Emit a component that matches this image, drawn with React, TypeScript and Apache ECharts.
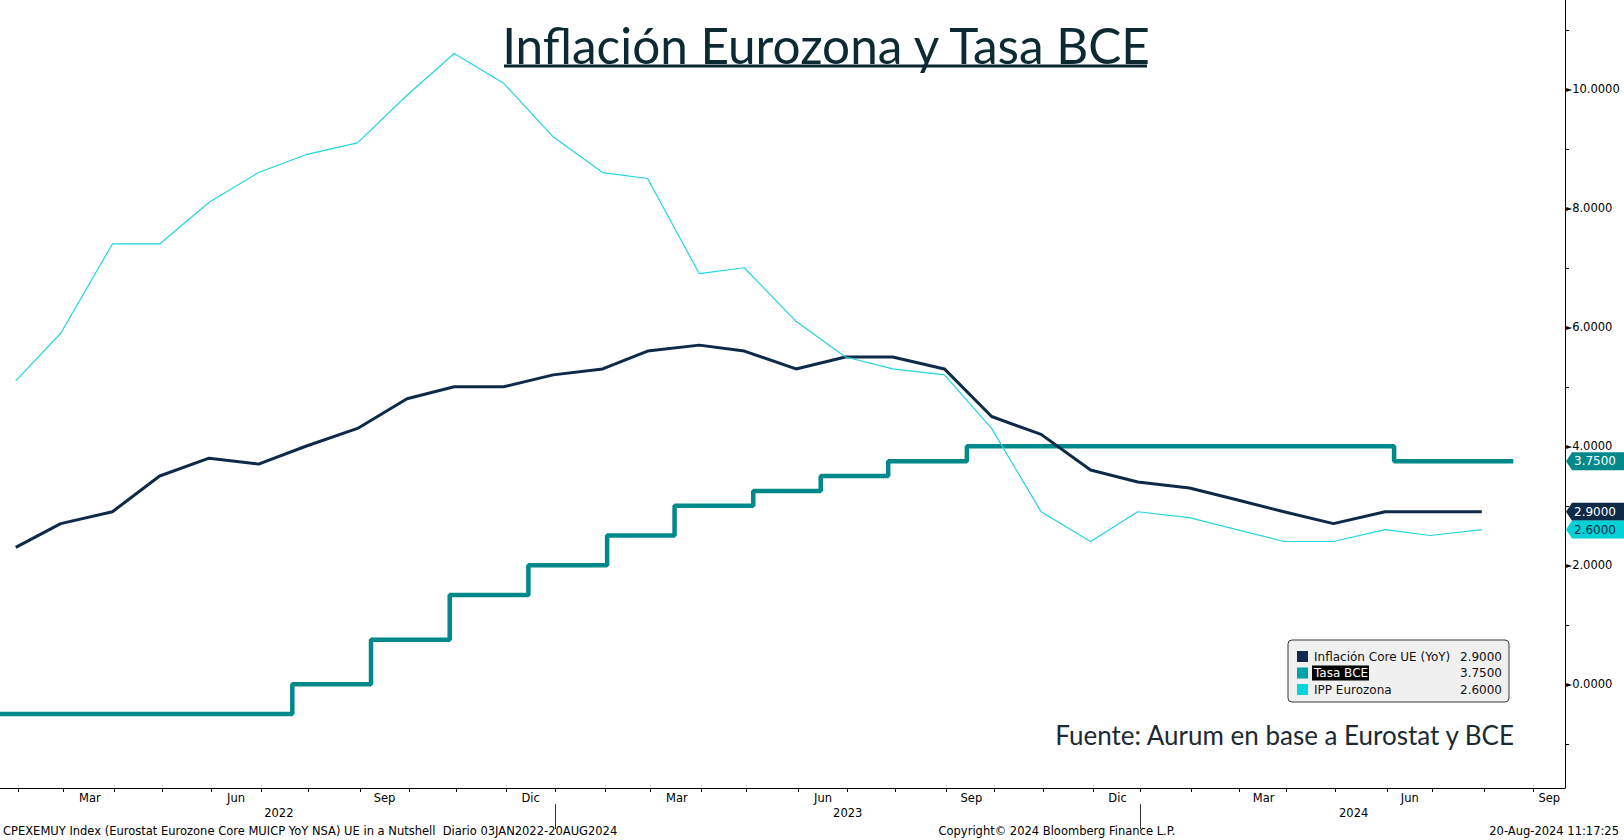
import React, { useEffect, useRef } from "react";
import * as echarts from "echarts";

const CHART_TITLE = "Inflación Eurozona y Tasa BCE";
const SOURCE_NOTE = "Fuente: Aurum en base a Eurostat y BCE";
const FOOTER_LEFT =
  "CPEXEMUY Index (Eurostat Eurozone Core MUICP YoY NSA) UE in a Nutshell  Diario 03JAN2022-20AUG2024";
const FOOTER_CENTER = "Copyright© 2024 Bloomberg Finance L.P.";
const FOOTER_RIGHT = "20-Aug-2024 11:17:25";

const SERIES_NAMES = ["Inflación Core UE (YoY)", "Tasa BCE", "IPP Eurozona"];
const SERIES_COLORS = ["#0f2a47", "#00898b", "#22d5dc"];
const LEGEND_SWATCH = ["#13294b", "#00a3a6", "#00d5dc"];

// daily axis range (business days)
const DATA_START = "2022-01-03";
const VIEW_START = "2022-01-20";
const VIEW_END = "2024-09-20";

// monthly observations (plotted at the last business day of each month)
const MONTHS = [
  "2022-01", "2022-02", "2022-03", "2022-04", "2022-05", "2022-06", "2022-07", "2022-08",
  "2022-09", "2022-10", "2022-11", "2022-12", "2023-01", "2023-02", "2023-03", "2023-04",
  "2023-05", "2023-06", "2023-07", "2023-08", "2023-09", "2023-10", "2023-11", "2023-12",
  "2024-01", "2024-02", "2024-03", "2024-04", "2024-05", "2024-06", "2024-07",
];
const CORE = [
  2.3, 2.7, 2.9, 3.5, 3.8, 3.7, 4.0, 4.3, 4.8, 5.0, 5.0, 5.2, 5.3, 5.6, 5.7, 5.6,
  5.3, 5.5, 5.5, 5.3, 4.5, 4.2, 3.6, 3.4, 3.3, 3.1, 2.9, 2.7, 2.9, 2.9, 2.9,
];
const HEADLINE = [
  5.1, 5.9, 7.4, 7.4, 8.1, 8.6, 8.9, 9.1, 9.9, 10.6, 10.1, 9.2, 8.6, 8.5, 6.9, 7.0,
  6.1, 5.5, 5.3, 5.2, 4.3, 2.9, 2.4, 2.9, 2.8, 2.6, 2.4, 2.4, 2.6, 2.5, 2.6,
];

// ECB deposit rate change dates and values
const RATE_DATES = [
  "2022-01-03", "2022-07-21", "2022-09-08", "2022-10-27", "2022-12-15", "2023-02-02",
  "2023-03-16", "2023-05-04", "2023-06-15", "2023-07-27", "2023-09-14", "2024-06-06",
  "2024-08-20",
];
const RATE_VALUES = [-0.5, 0, 0.75, 1.5, 2.0, 2.5, 3.0, 3.25, 3.5, 3.75, 4.0, 3.75, 3.75];

// axis ticks / labels
const MONTH_ABBR = ["Ene", "Feb", "Mar", "Abr", "May", "Jun", "Jul", "Ago", "Sep", "Oct", "Nov", "Dic"];
const LABELED_MONTHS = [2, 5, 8, 11];
const Y_MIN = -1.743;
const Y_MAX = 11.5;
const Y_LABELS = [0, 2, 4, 6, 8, 10];
const Y_MINOR = [-1, 1, 3, 5, 7, 9, 11];

const AXIS_FONT = "'DejaVu Sans', Verdana, sans-serif";
const TITLE_FONT = "Lato, 'Noto Sans', sans-serif";

const pad = (n: number) => String(n).padStart(2, "0");
const fmt = (d: Date) => `${d.getUTCFullYear()}-${pad(d.getUTCMonth() + 1)}-${pad(d.getUTCDate())}`;

function businessDays(start: string, end: string): string[] {
  const out: string[] = [];
  const d = new Date(start + "T00:00:00Z");
  const e = new Date(end + "T00:00:00Z");
  while (d <= e) {
    const w = d.getUTCDay();
    if (w !== 0 && w !== 6) out.push(fmt(d));
    d.setUTCDate(d.getUTCDate() + 1);
  }
  return out;
}
function lastBizDay(ym: string): string {
  const [y, m] = ym.split("-").map(Number);
  const d = new Date(Date.UTC(y, m, 0));
  while (d.getUTCDay() === 0 || d.getUTCDay() === 6) d.setUTCDate(d.getUTCDate() - 1);
  return fmt(d);
}

export default function App() {
  const ref = useRef<HTMLDivElement>(null);

  useEffect(() => {
    if (!ref.current) return;
    const chart = echarts.init(ref.current, undefined, { renderer: "svg" });

    const cats = businessDays(DATA_START, VIEW_END);
    const minIdx = cats.indexOf(VIEW_START);
    const maxIdx = cats.length - 1;

    const monthTick = new Set<number>();
    const monthLabel = new Set<number>();
    const yearTick = new Set<number>();
    const yearLabel = new Set<number>();
    const monthStarts: number[] = [];
    for (let i = 0; i < cats.length; i++) {
      if (i === 0 || cats[i].slice(0, 7) !== cats[i - 1].slice(0, 7)) {
        monthStarts.push(i);
        monthTick.add(i);
        if (i > 0 && cats[i].slice(0, 4) !== cats[i - 1].slice(0, 4)) yearTick.add(i);
      }
    }
    for (let k = 0; k < monthStarts.length; k++) {
      const s = monthStarts[k];
      const e = k + 1 < monthStarts.length ? monthStarts[k + 1] : maxIdx;
      const m = Number(cats[s].slice(5, 7)) - 1;
      if (!LABELED_MONTHS.includes(m)) continue;
      const lo = Math.max(s, minIdx);
      const hi = Math.min(e, maxIdx);
      if (hi <= lo) continue;
      monthLabel.add(Math.round((lo + hi) / 2));
    }
    const years = Array.from(new Set(cats.map((c) => c.slice(0, 4))));
    years.forEach((y) => {
      const first = cats.findIndex((c) => c.startsWith(y));
      let last = -1;
      for (let i = cats.length - 1; i >= 0; i--) if (cats[i].startsWith(y)) { last = i; break; }
      const lo = Math.max(first, minIdx);
      const hi = Math.min(last + (last < maxIdx ? 1 : 0), maxIdx);
      if (hi > lo) yearLabel.add(Math.round((lo + hi) / 2));
    });

    const coreData = MONTHS.map((m, i) => [lastBizDay(m), CORE[i]]);
    const headData = MONTHS.map((m, i) => [lastBizDay(m), HEADLINE[i]]);
    const rateData = RATE_DATES.map((d, i) => [d, RATE_VALUES[i]]);

    const axisLabelFont = { color: "#000", fontSize: 11.5, fontFamily: AXIS_FONT };

    const option: any = {
      animation: false,
      backgroundColor: "#ffffff",
      grid: { left: 0, right: 59, top: 0, bottom: 52, containLabel: false, outerBoundsMode: "none" },
      xAxis: [
        {
          type: "category",
          data: cats,
          boundaryGap: false,
          min: minIdx,
          max: maxIdx,
          axisLine: { onZero: false, lineStyle: { color: "#000", width: 1 } },
          axisTick: { length: 4, lineStyle: { color: "#000" }, interval: (i: number) => monthTick.has(i) },
          axisLabel: {
            interval: (i: number) => monthLabel.has(i),
            formatter: (v: string) => MONTH_ABBR[Number(v.slice(5, 7)) - 1],
            ...axisLabelFont,
            margin: 4,
          },
          splitLine: { show: false },
        },
        {
          type: "category",
          data: cats,
          boundaryGap: false,
          min: minIdx,
          max: maxIdx,
          position: "bottom",
          offset: 16,
          axisLine: { show: false, onZero: false },
          axisTick: { length: 25, lineStyle: { color: "#333" }, interval: (i: number) => yearTick.has(i) },
          axisLabel: {
            interval: (i: number) => yearLabel.has(i),
            formatter: (v: string) => v.slice(0, 4),
            ...axisLabelFont,
            margin: 3,
          },
          splitLine: { show: false },
        },
      ],
      yAxis: {
        type: "value",
        position: "right",
        min: Y_MIN,
        max: Y_MAX,
        axisLine: { show: true, lineStyle: { color: "#000", width: 1 } },
        axisTick: { show: true, length: 4, customValues: Y_MINOR, lineStyle: { color: "#000" } },
        axisLabel: {
          customValues: Y_LABELS,
          margin: 1,
          formatter: (v: number) => `{t|►}{v|${v.toFixed(4)}}`,
          rich: {
            t: { fontSize: 8, color: "#000", fontFamily: "DejaVu Sans" },
            v: { fontSize: 11.5, color: "#000", fontFamily: AXIS_FONT },
          },
        },
        splitLine: { show: false },
      },
      series: [
        {
          name: SERIES_NAMES[1],
          type: "line",
          step: "end",
          data: rateData,
          symbol: "none",
          clip: true,
          lineStyle: { color: SERIES_COLORS[1], width: 4.5 },
          z: 2,
        },
        {
          name: SERIES_NAMES[0],
          type: "line",
          data: coreData,
          symbol: "none",
          clip: true,
          lineStyle: { color: SERIES_COLORS[0], width: 3 },
          z: 3,
        },
        {
          name: SERIES_NAMES[2],
          type: "line",
          data: headData,
          symbol: "none",
          clip: true,
          lineStyle: { color: SERIES_COLORS[2], width: 1.2 },
          z: 4,
        },
      ],
    };
    chart.setOption(option);

    const lastVals = [CORE[CORE.length - 1], RATE_VALUES[RATE_VALUES.length - 1], HEADLINE[HEADLINE.length - 1]];
    const tagFill = [SERIES_COLORS[0], SERIES_COLORS[1], "#00d2d8"];
    const tagText = ["#ffffff", "#ffffff", "#0f2a47"];
    const axisX = 1565;
    const tags: any[] = [];
    [1, 0, 2].forEach((k) => {
      const y = chart.convertToPixel({ yAxisIndex: 0 }, lastVals[k]) as number;
      const h = 9;
      tags.push({
        type: "polygon",
        z: 100,
        shape: { points: [[axisX + 1, y], [axisX + 7, y - h], [1624, y - h], [1624, y + h], [axisX + 7, y + h]] },
        style: { fill: tagFill[k] },
      });
      tags.push({
        type: "text",
        z: 101,
        style: {
          x: axisX + 9,
          y: y,
          text: lastVals[k].toFixed(4),
          fill: tagText[k],
          font: `12px ${AXIS_FONT}`,
          textAlign: "left",
          textVerticalAlign: "middle",
        },
      });
    });

    const lgX = 1288, lgY = 640, lgW = 221, lgH = 62;
    const rowY = [656.5, 673, 689.5];
    const legend: any[] = [
      { type: "rect", z: 50, shape: { x: lgX, y: lgY, width: lgW, height: lgH, r: 4 }, style: { fill: "#f0f0f0", stroke: "#3a3a3a", lineWidth: 1 } },
    ];
    SERIES_NAMES.forEach((name, i) => {
      legend.push({ type: "rect", z: 51, shape: { x: 1297, y: rowY[i] - 5.5, width: 11, height: 11 }, style: { fill: LEGEND_SWATCH[i] } });
      if (i === 1) {
        legend.push({ type: "rect", z: 51, shape: { x: 1312, y: rowY[i] - 7.5, width: 57, height: 15 }, style: { fill: "#000" } });
      }
      legend.push({
        type: "text", z: 52,
        style: { x: 1314, y: rowY[i], text: name, fill: i === 1 ? "#fff" : "#111", font: `12px ${AXIS_FONT}`, textAlign: "left", textVerticalAlign: "middle" },
      });
      legend.push({
        type: "text", z: 52,
        style: { x: 1502, y: rowY[i], text: lastVals[i].toFixed(4), fill: "#111", font: `12px ${AXIS_FONT}`, textAlign: "right", textVerticalAlign: "middle" },
      });
    });

    const texts: any[] = [
      {
        type: "text", z: 60,
        style: { x: 826, y: 45, text: CHART_TITLE, fill: "#0d2a33", font: `49.5px ${TITLE_FONT}`, textAlign: "center", textVerticalAlign: "middle" },
      },
      { type: "line", z: 60, shape: { x1: 504, y1: 66, x2: 1147, y2: 66 }, style: { stroke: "#0b2530", lineWidth: 3 } },
      {
        type: "text", z: 60,
        style: { x: 1514, y: 735, text: SOURCE_NOTE, fill: "#1b2a33", font: `26px ${TITLE_FONT}`, textAlign: "right", textVerticalAlign: "middle" },
      },
      { type: "text", z: 60, style: { x: 3, y: 831, text: FOOTER_LEFT, fill: "#000", font: `11.5px ${AXIS_FONT}`, textAlign: "left", textVerticalAlign: "middle" } },
      { type: "text", z: 60, style: { x: 1057, y: 831, text: FOOTER_CENTER, fill: "#000", font: `11.5px ${AXIS_FONT}`, textAlign: "center", textVerticalAlign: "middle" } },
      { type: "text", z: 60, style: { x: 1619, y: 831, text: FOOTER_RIGHT, fill: "#000", font: `11.5px ${AXIS_FONT}`, textAlign: "right", textVerticalAlign: "middle" } },
    ];

    chart.setOption({ graphic: [...texts, ...legend, ...tags] });

    return () => chart.dispose();
  }, []);

  return (
    <div
      ref={ref}
      style={{ position: "absolute", left: 0, top: 0, width: 1624, height: 840, background: "#fff" }}
    />
  );
}
